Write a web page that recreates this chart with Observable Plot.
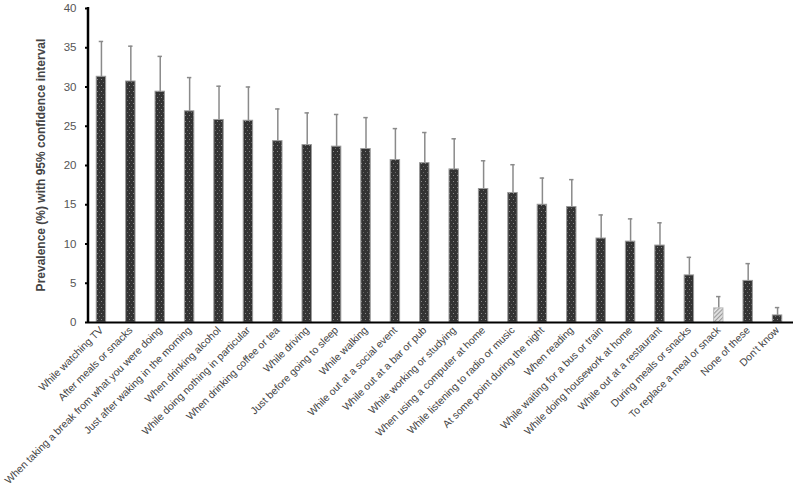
<!DOCTYPE html>
<html><head><meta charset="utf-8">
<script src="https://cdn.jsdelivr.net/npm/d3@7"></script>
<script src="https://cdn.jsdelivr.net/npm/@observablehq/plot@0.6"></script>
<style>body{margin:0;background:#fff;font-family:"Liberation Sans",Arial,sans-serif}</style>
</head><body><div id="chart"></div>
<script>
const categories = ["While watching TV","After meals or snacks","When taking a break from what you were doing","Just after waking in the morning","When drinking alcohol","While doing nothing in particular","When drinking coffee or tea","While driving","Just before going to sleep","While walking","While out at a social event","While out at a bar or pub","While working or studying","When using a computer at home","While listening to radio or music","At some point during the night","When reading","While waiting for a bus or train","While doing housework at home","While out at a restaurant","During meals or snacks","To replace a meal or snack","None of these","Don't know"];
const prevalence = [31.3,30.7,29.4,26.9,25.8,25.7,23.1,22.6,22.4,22.1,20.7,20.3,19.5,17.0,16.5,15.0,14.7,10.7,10.3,9.8,6.0,1.8,5.3,0.9];
const upperCI = [35.8,35.2,33.9,31.2,30.1,30.0,27.2,26.7,26.5,26.1,24.7,24.2,23.4,20.6,20.1,18.4,18.2,13.7,13.2,12.7,8.3,3.3,7.5,1.9];
const hatched = ["To replace a meal or snack"];
const yTicks = [0,5,10,15,20,25,30,35,40];

const data = categories.map((c,i)=>({cat:c, v:prevalence[i], hi:upperCI[i]}));
const solid = data.filter(d=>!hatched.includes(d.cat));
const light = data.filter(d=>hatched.includes(d.cat));

const plot = Plot.plot({
  width:796, height:492,
  marginLeft:88, marginRight:6, marginTop:8, marginBottom:170,
  style:{fontFamily:"Liberation Sans, Arial, sans-serif", fontSize:"11px", color:"#444", background:"#fff"},
  x:{domain:categories, paddingInner:0.68, paddingOuter:0.28, round:false, label:null},
  y:{domain:[0,40], label:null},
  marks:[
    Plot.ruleX(data,{x:"cat", y1:"v", y2:"hi", stroke:"#8a8a8a", strokeWidth:1.5}),
    Plot.tickY(data,{x:"cat", y:"hi", stroke:"#8a8a8a", strokeWidth:1.5, insetLeft:2.5, insetRight:2.5}),
    Plot.barY(solid,{x:"cat", y:"v", fill:"url(#dots)", stroke:"#9a9a9a", strokeWidth:1}),
    Plot.barY(light,{x:"cat", y:"v", fill:"url(#hatch)", stroke:"#bbb", strokeWidth:1}),
    Plot.ruleY([0],{stroke:"#000", strokeWidth:2, insetRight:-3}),
    Plot.axisY({ticks:yTicks, tickSize:3, tickPadding:9, stroke:"#000", strokeWidth:2, fill:"#555", fontSize:11.5, label:null}),
    Plot.axisX({tickSize:0, tickPadding:6, tickRotate:-45, fill:"#444", fontSize:10.4, label:null})
  ]
});

const svg = d3.select(plot);
const defs = svg.insert("defs",":first-child");
const p = defs.append("pattern").attr("id","dots").attr("patternUnits","userSpaceOnUse").attr("width",4).attr("height",6);
p.append("rect").attr("width",4).attr("height",6).attr("fill","#333");
p.append("rect").attr("x",1).attr("y",1).attr("width",1).attr("height",1).attr("fill","#8a8a8a");
p.append("rect").attr("x",3).attr("y",4).attr("width",1).attr("height",1).attr("fill","#6a6a6a");
const h = defs.append("pattern").attr("id","hatch").attr("patternUnits","userSpaceOnUse").attr("width",3).attr("height",3).attr("patternTransform","rotate(45)");
h.append("rect").attr("width",3).attr("height",3).attr("fill","#e6e6e6");
h.append("rect").attr("width",1.2).attr("height",3).attr("fill","#999");

const ys = plot.scale("y");
const xr = plot.scale("x").range;
svg.append("line").attr("x1",xr[0]).attr("x2",xr[0]).attr("y1",ys.range[0]+1).attr("y2",ys.range[1]-1).attr("stroke","#000").attr("stroke-width",2.5);
svg.append("text").attr("transform",`translate(45,${(ys.range[0]+ys.range[1])/2}) rotate(-90)`)
  .attr("text-anchor","middle").attr("font-weight","bold").attr("font-size","12px").attr("fill","#444")
  .attr("font-family","Liberation Sans, Arial, sans-serif")
  .text("Prevalence (%) with 95% confidence interval");
document.getElementById("chart").appendChild(plot);
</script></body></html>
